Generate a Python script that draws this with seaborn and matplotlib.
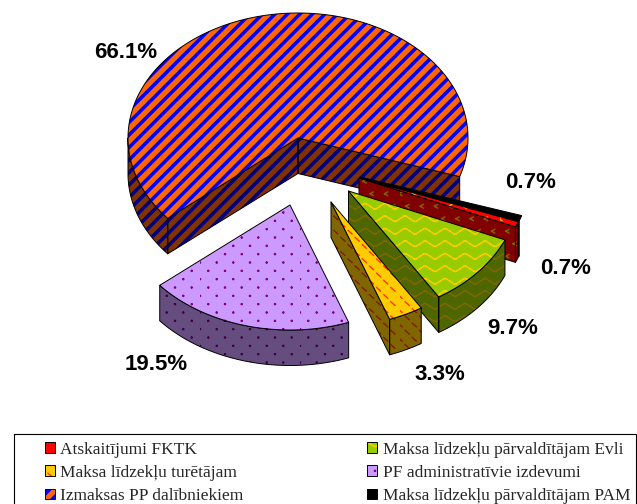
import numpy as np
import matplotlib
matplotlib.use("Agg")
import matplotlib.pyplot as plt
import matplotlib.hatch as mhatch
from matplotlib.patches import Polygon, Patch, Rectangle
import seaborn as sns

# ---- data -------------------------------------------------------------
categories = ["Atskaitījumi FKTK", "Maksa līdzekļu pārvaldītājam Evli",
              "Maksa līdzekļu turētājam", "PF administratīvie izdevumi",
              "Izmaksas PP dalībniekiem", "Maksa līdzekļu pārvaldītājam PAM"]
shares = [0.7, 9.7, 3.3, 19.5, 66.1, 0.7]

# ---- style ------------------------------------------------------------
face_colors = sns.color_palette(["#ff0000", "#99cc00", "#ffcc00", "#cc99ff", "#ff6600", "#000000"])
mark_colors = sns.color_palette(["#ffcc00", "#ffcc00", "#ff3300", "#800080", "#0000ff", "#000000"])
hatches = ["x", "+", "*", ".", "/", ""]
apex = [(359, 178), (348.5, 191), (331, 202), (290, 205), (298, 138), (360, 177)]
label_xy = [(566, 268), (513, 329), (440, 374), (156, 365), (126, 53), (531, 182)]
draw_order = [4, 5, 0, 1, 2, 3]
A, B, DEPTH = 170, 125, 35.5
START = 110.5


# ---- fill patterns (hatch tile = 100 px at this dpi) -------------------
class _Pattern(mhatch.HatchPatternBase):
    char = ""

    def __init__(self, hatch, density):
        self.active = self.char in hatch
        self.verts, self.cds = self.build() if self.active else ([], [])
        self.num_vertices = len(self.verts)

    def set_vertices_and_codes(self, vertices, codes):
        vertices[:] = self.verts
        codes[:] = self.cds


def _segments(segs):
    v, c = [], []
    for p, q in segs:
        v += [p, q]
        c += [1, 2]
    return v, c


class Stripes(_Pattern):
    char = "/"

    def build(self):
        n, w = 8, 0.03
        v, c = [], []
        for k in range(-n - 1, n + 1):
            x = k / n
            v += [(x, 0), (x + w, 0), (x + w + 1, 1), (x + 1, 1), (x, 0)]
            c += [1, 2, 2, 2, 79]
        return v, c


class Dots(_Pattern):
    char = "."

    def build(self):
        segs = []
        nx, ny = 6, 12
        for j in range(ny):
            for i in range(nx):
                x = (i + (j % 2) / 2) / nx
                y = (j + 0.5) / ny
                segs.append(((x - 0.005, y), (x + 0.005, y)))
                segs.append(((x, y - 0.005), (x, y + 0.005)))
        return _segments(segs)


class Wave(_Pattern):
    char = "+"

    def build(self):
        segs = []
        nx, ny, amp = 5, 8, 0.026
        prof = [0, 1, 1, 0, -1, -1, 0]
        xs = [0, 0.2, 0.3, 0.5, 0.7, 0.8, 1.0]
        for j in range(ny):
            y = (j + 0.5) / ny
            for i in range(nx):
                for m in range(6):
                    p = ((i + xs[m]) / nx, y + amp * prof[m])
                    q = ((i + xs[m + 1]) / nx, y + amp * prof[m + 1])
                    segs.append((p, q))
        return _segments(segs)


class Dashes(_Pattern):
    char = "*"

    def build(self):
        segs = []
        nx, ny = 7, 14
        for j in range(ny):
            for i in range(nx):
                x = (i + (j % 2) / 2) / nx
                y = (j + 0.5) / ny
                segs.append(((x - 0.02, y + 0.018), (x + 0.02, y - 0.018)))
        return _segments(segs)


class Chevrons(_Pattern):
    char = "x"

    def build(self):
        segs = []
        nx, ny = 7, 8
        for j in range(ny):
            for i in range(nx):
                x = (i + (j % 2) / 2) / nx
                y = (j + 0.5) / ny
                segs.append(((x + 0.018, y + 0.018), (x - 0.012, y)))
                segs.append(((x - 0.012, y), (x + 0.018, y - 0.018)))
        return _segments(segs)


mhatch._hatch_types = [Stripes, Dots, Wave, Dashes, Chevrons]

sns.set_theme(style="white", rc={"hatch.linewidth": 1.0})
plt.rcParams["font.family"] = ["Liberation Sans", "DejaVu Sans"]

fig = plt.figure(figsize=(6.37, 5.04), dpi=100, facecolor="white")
ax = fig.add_axes([0, 0, 1, 1])
ax.set_xlim(0, 637)
ax.set_ylim(504, 0)
ax.axis("off")


def darker(c):
    return tuple(x * 0.5 for x in c)


def filled(xy, face, mark, hatch, z):
    ax.add_patch(Polygon(xy, closed=True, facecolor=face, edgecolor=mark,
                         hatch=hatch, linewidth=0, zorder=z))
    ax.add_patch(Polygon(xy, closed=True, fill=False, edgecolor="black",
                         linewidth=0.7, zorder=z + 0.1, joinstyle="round"))


ends = START + np.cumsum(shares) * 3.6
starts = ends - np.array(shares) * 3.6


def rim_point(c, deg):
    t = np.radians(deg)
    return c[0] + A * np.sin(t), c[1] - B * np.cos(t)


for rank, i in enumerate(draw_order):
    c, t1, t2 = apex[i], starts[i], ends[i]
    z = 2 + rank
    side_f, side_m = darker(face_colors[i]), darker(mark_colors[i])
    # radial cut faces facing the viewer
    for deg, vis in ((t1, np.sin(np.radians(t1)) < 0), (t2, np.sin(np.radians(t2)) > 0)):
        if vis:
            p = rim_point(c, deg)
            filled([c, p, (p[0], p[1] + DEPTH), (c[0], c[1] + DEPTH)], side_f, side_m, hatches[i], z)
    # curved rim, front half only
    lo, hi = max(t1, 90), min(t2, 270)
    if hi > lo:
        ang = np.linspace(lo, hi, 90)
        top = [rim_point(c, d) for d in ang]
        low = [(x, y + DEPTH) for x, y in top[::-1]]
        filled(top + low, side_f, side_m, hatches[i], z)
    # top face
    ang = np.linspace(t1, t2, 240)
    filled([c] + [rim_point(c, d) for d in ang], face_colors[i], mark_colors[i], hatches[i], z + 0.3)

for v, (x, y) in zip(shares, label_xy):
    ax.text(x, y, f"{v:.1f}%", ha="center", va="center", fontsize=16,
            fontweight="bold", color="black", zorder=20)

# legend: box runs off the bottom of the picture
ax.add_patch(Rectangle((14, 434), 622, 90, fill=False, edgecolor="black", linewidth=0.8, zorder=1))
column_order = [0, 2, 4, 1, 3, 5]
handles = []
for i in column_order:
    handles.append((Patch(facecolor=face_colors[i], edgecolor=mark_colors[i], hatch=hatches[i], linewidth=0),
                    Patch(fill=False, edgecolor="black", linewidth=0.7)))
ax.legend(handles, [categories[i] for i in column_order], ncols=2, loc="upper left",
          bbox_to_anchor=(45, 441.5), bbox_transform=ax.transData, frameon=False,
          borderpad=0, borderaxespad=0, handlelength=0.55, handleheight=0.55,
          handletextpad=0.33, labelspacing=0.42, columnspacing=7.14,
          prop={"family": "Liberation Serif", "size": 12.5})

fig.savefig("out.png", dpi=100)
